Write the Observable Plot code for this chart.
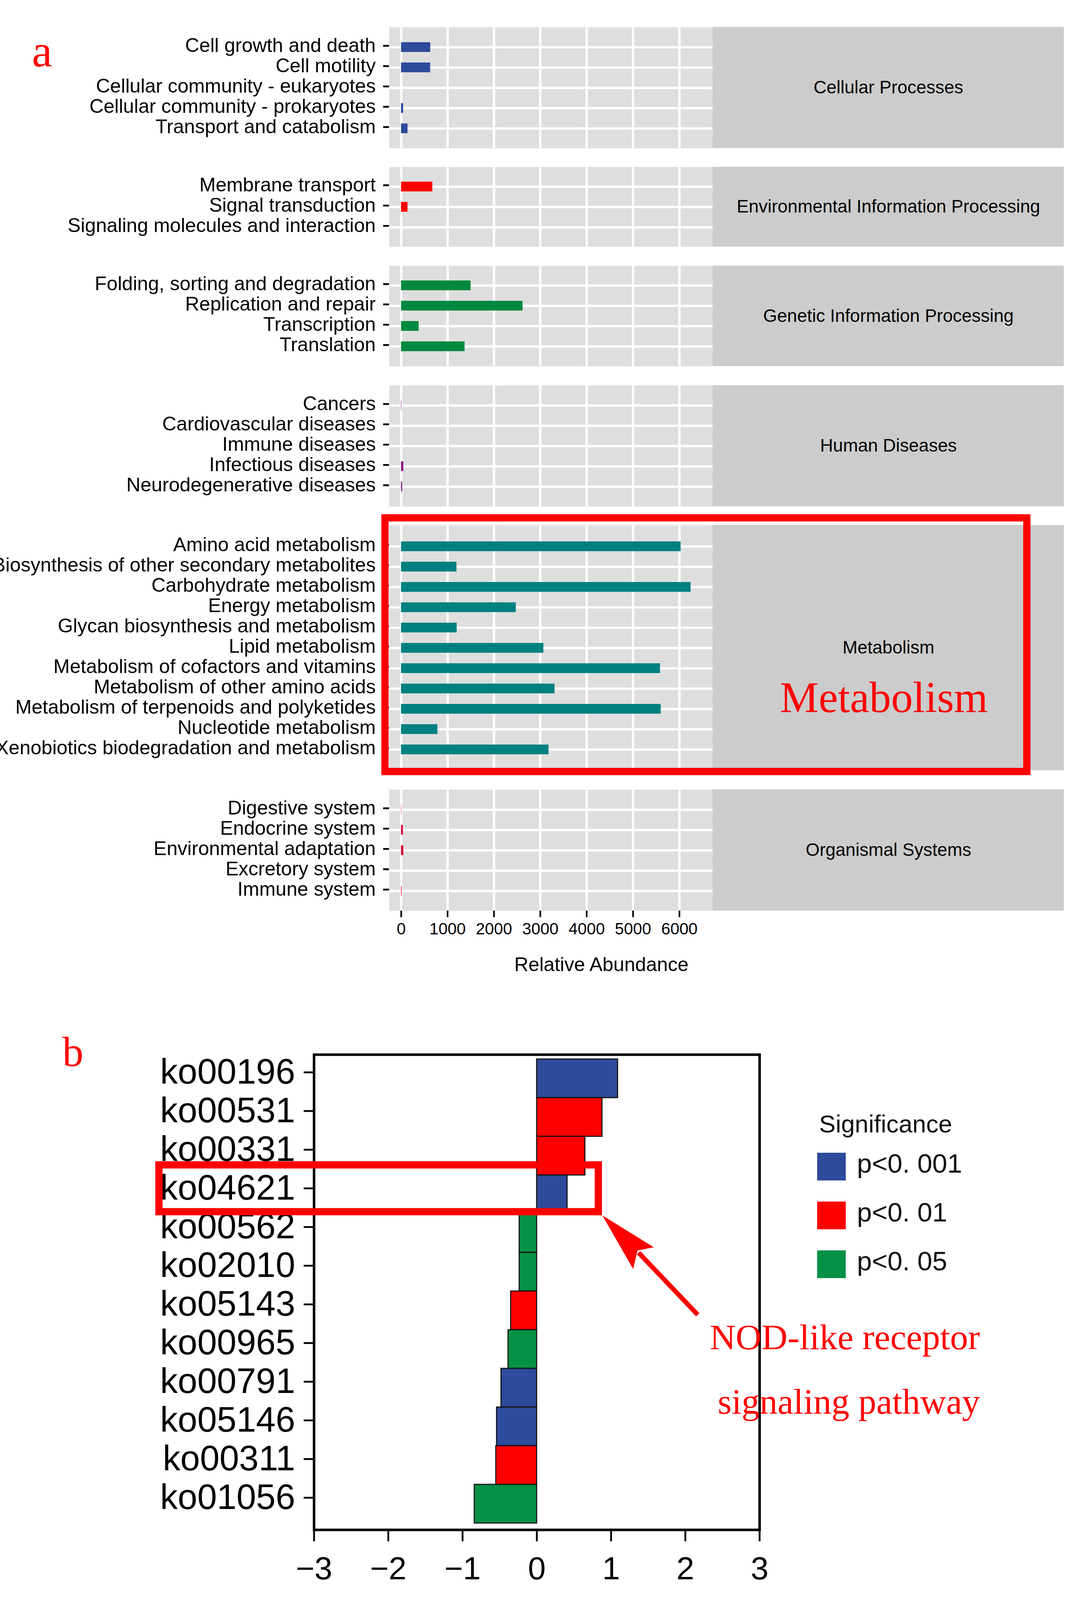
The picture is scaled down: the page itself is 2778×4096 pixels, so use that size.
<!DOCTYPE html>
<html>
<head>
<meta charset="utf-8">
<script src="https://cdn.jsdelivr.net/npm/d3@7"></script>
<script src="https://cdn.jsdelivr.net/npm/@observablehq/plot@0.6"></script>
<style>
  html, body { margin: 0; padding: 0; background: #fff; }
  #root { position: relative; width: 2778px; height: 4096px; overflow: hidden; background: #fff; }
  #root > svg, #root > figure { position: absolute; margin: 0; }
</style>
</head>
<body>
<div id="root"></div>
<script>
// ================= DATA =================
// Panel a: KEGG level-1 categories (facets) and level-2 pathways
const facetTitles = ["Cellular Processes", "Environmental Information Processing", "Genetic Information Processing", "Human Diseases", "Metabolism", "Organismal Systems"];

const cellularPathways = ["Cell growth and death", "Cell motility", "Cellular community - eukaryotes", "Cellular community - prokaryotes", "Transport and catabolism"];
const cellularAbundance = [630, 628, 0, 45, 140];

const environmentalPathways = ["Membrane transport", "Signal transduction", "Signaling molecules and interaction"];
const environmentalAbundance = [675, 140, 0];

const geneticPathways = ["Folding, sorting and degradation", "Replication and repair", "Transcription", "Translation"];
const geneticAbundance = [1500, 2620, 380, 1370];

const diseasePathways = ["Cancers", "Cardiovascular diseases", "Immune diseases", "Infectious diseases", "Neurodegenerative diseases"];
const diseaseAbundance = [8, 0, 0, 50, 25];

const metabolismPathways = ["Amino acid metabolism", "Biosynthesis of other secondary metabolites", "Carbohydrate metabolism", "Energy metabolism", "Glycan biosynthesis and metabolism", "Lipid metabolism", "Metabolism of cofactors and vitamins", "Metabolism of other amino acids", "Metabolism of terpenoids and polyketides", "Nucleotide metabolism", "Xenobiotics biodegradation and metabolism"];
const metabolismAbundance = [6030, 1195, 6245, 2475, 1200, 3070, 5585, 3310, 5600, 785, 3180];

const organismalPathways = ["Digestive system", "Endocrine system", "Environmental adaptation", "Excretory system", "Immune system"];
const organismalAbundance = [6, 40, 50, 0, 12];

const abundanceTicks = [0, 1000, 2000, 3000, 4000, 5000, 6000];

// Panel b: differential KEGG pathways
const koIds = ["ko00196", "ko00531", "ko00331", "ko04621", "ko00562", "ko02010", "ko05143", "ko00965", "ko00791", "ko05146", "ko00311", "ko01056"];
const koValues = [1.09, 0.88, 0.65, 0.41, -0.235, -0.235, -0.35, -0.385, -0.48, -0.54, -0.55, -0.84];
const koSignificance = ["p<0. 001", "p<0. 01", "p<0. 01", "p<0. 001", "p<0. 05", "p<0. 05", "p<0. 01", "p<0. 05", "p<0. 001", "p<0. 001", "p<0. 01", "p<0. 05"];
const significanceLevels = ["p<0. 001", "p<0. 01", "p<0. 05"];
const koTicks = [-3, -2, -1, 0, 1, 2, 3];

// ================= STYLE / LAYOUT =================
const S = 0.929;                 // reference -> window scale
const s = v => v * S;
const SANS = "'Liberation Sans', Arial, Helvetica, sans-serif";
const SERIF = "'Liberation Serif', 'Times New Roman', serif";

const facetColors = ["#2E4A9B", "#FF0000", "#00893F", "#8B1C8B", "#008080", "#DE0030"];
const significanceColors = ["#2E4A9B", "#FF0000", "#079146"];

const facetPathways = [cellularPathways, environmentalPathways, geneticPathways, diseasePathways, metabolismPathways, organismalPathways];
const facetAbundance = [cellularAbundance, environmentalAbundance, geneticAbundance, diseaseAbundance, metabolismAbundance, organismalAbundance];
const facetTops = [74, 460, 732, 1061, 1447, 2175];   // reference px
const ROW = 57, PAD_IN = 0.527, PAD_OUT = 0.692;
const PANEL_L = 1072, PANEL_R = 1964, STRIP_W = 968, FULL_W = 2990;

const root = document.getElementById("root");

function place(node, left, top) {
  node.style.left = s(left) + "px";
  node.style.top = s(top) + "px";
  root.appendChild(node);
}

// ================= PANEL a =================
facetTitles.forEach((title, i) => {
  const names = facetPathways[i];
  const rows = names.map((name, j) => ({name, value: facetAbundance[i][j]}));
  const panelH = ROW * (names.length - PAD_IN + 2 * PAD_OUT);
  const last = i === facetTitles.length - 1;
  const mb = last ? 200 : 0;
  const stripMark = (index, scales, values, dim) => {
    const g = d3.create("svg:g");
    g.append("rect")
      .attr("x", dim.width - dim.marginRight)
      .attr("y", dim.marginTop)
      .attr("width", s(STRIP_W))
      .attr("height", dim.height - dim.marginTop - dim.marginBottom)
      .attr("fill", "#CCCCCC");
    return g.node();
  };
  const marks = [
    Plot.frame({fill: "#DEDEDE", stroke: "none"}),
    Plot.gridX({ticks: abundanceTicks, stroke: "#fff", strokeOpacity: 1, strokeWidth: s(6.5)}),
    Plot.gridY({stroke: "#fff", strokeOpacity: 1, strokeWidth: s(6.5)}),
    Plot.barX(rows, {x: "value", y: "name", fill: facetColors[i]}),
    Plot.axisY({tickSize: s(16), tickPadding: s(21), fontSize: s(54), strokeWidth: s(5), dy: -s(4), label: null}),
    stripMark,
    Plot.text([title], {frameAnchor: "right", dx: s(STRIP_W / 2), textAnchor: "middle", lineAnchor: "middle", fontSize: s(49.5), fill: "#000"})
  ];
  if (last) {
    marks.push(Plot.axisX({ticks: abundanceTicks, tickSize: s(18), tickPadding: s(15), fontSize: s(45), strokeWidth: s(4.5), tickFormat: d => String(d), label: null}));
    marks.push(Plot.text(["Relative Abundance"], {frameAnchor: "bottom", lineAnchor: "middle", dx: s(1657 - (PANEL_L + PANEL_R) / 2), dy: s(2658 - 2509), fontSize: s(54), fill: "#000"}));
  }
  const chart = Plot.plot({
    width: s(FULL_W),
    height: s(panelH + mb),
    marginTop: 0,
    marginBottom: s(mb),
    marginLeft: s(PANEL_L),
    marginRight: s(FULL_W - PANEL_R),
    x: {domain: [-260, 6720], axis: last ? undefined : null},
    y: {type: "band", domain: names, paddingInner: PAD_IN, paddingOuter: PAD_OUT, align: 0.5},
    style: {fontFamily: SANS, background: "none", color: "#000", overflow: "visible"},
    marks
  });
  place(chart, 0, facetTops[i]);
});

// ================= PANEL b =================
const koRows = koIds.map((id, i) => ({id, value: koValues[i], sig: koSignificance[i]}));
const B_TOP = 2800, B_FRAME_T = 2906, B_FRAME_B = 4215.5, B_FRAME_L = 865, B_FRAME_R = 2093, B_W = 2160, B_H = 1600;
const chartB = Plot.plot({
  width: s(B_W),
  height: s(B_H),
  marginTop: s(B_FRAME_T - B_TOP),
  marginBottom: s(B_TOP + B_H - B_FRAME_B),
  marginLeft: s(B_FRAME_L),
  marginRight: s(B_W - B_FRAME_R),
  x: {domain: [-3, 3]},
  y: {type: "band", domain: koIds, paddingInner: 0, paddingOuter: 0.095, align: 0.4},
  color: {domain: significanceLevels, range: significanceColors},
  style: {fontFamily: SANS, background: "none", color: "#000", overflow: "visible"},
  marks: [
    Plot.barX(koRows, {x: "value", y: "id", fill: "sig", stroke: "#111", strokeWidth: s(3)}),
    Plot.axisY({tickSize: s(28), tickPadding: s(24), fontSize: s(97), strokeWidth: s(5), dy: -s(17), label: null}),
    Plot.axisX({ticks: koTicks, tickSize: s(32), tickPadding: s(42), fontSize: s(88), strokeWidth: s(5),
      tickFormat: d => d < 0 ? "\u2212" + (-d) : String(d), label: null}),
    Plot.frame({stroke: "#000", strokeWidth: s(7)})
  ]
});
place(chartB, 0, B_TOP);

// Legend for panel b (drawn with the same colour scale)
const L_TOP = 3030, L_LEFT = 2240, L_SW_T = 3176, L_SW_B = 3522;
const legend = Plot.plot({
  width: s(480),
  height: s(L_SW_B - L_TOP + 30),
  marginTop: s(L_SW_T - L_TOP),
  marginBottom: s(30),
  marginLeft: s(12),
  marginRight: s(480 - 12 - 79),
  x: {domain: [0, 1], axis: null},
  y: {type: "band", domain: significanceLevels, paddingInner: 0.43, paddingOuter: 0, axis: null},
  color: {domain: significanceLevels, range: significanceColors},
  style: {fontFamily: SANS, background: "none", color: "#000", overflow: "visible"},
  marks: [
    Plot.barX(significanceLevels, {x1: 0, x2: 1, y: d => d, fill: d => d}),
    Plot.text(significanceLevels, {y: d => d, text: d => d, frameAnchor: "right", lineAnchor: "middle", dx: s(30), dy: -s(8), textAnchor: "start", fontSize: s(74), fill: "#111"}),
    Plot.text(["Significance"], {frameAnchor: "top-left", lineAnchor: "middle", dx: s(5), dy: -s(L_SW_T - 3098), textAnchor: "start", fontSize: s(68), fill: "#111"})
  ]
});
place(legend, L_LEFT, L_TOP);

// ================= ANNOTATIONS (figure overlays) =================
const ov = d3.create("svg")
  .attr("width", 2778).attr("height", 4096)
  .style("left", "0px").style("top", "0px")
  .style("pointer-events", "none");
const A = ov.append("g").attr("transform", `scale(${S})`);
const RED = "#FF0000";
A.append("text").attr("x", 88).attr("y", 183).attr("font-family", SERIF).attr("font-size", 126).attr("fill", RED).text("a");
A.append("text").attr("x", 172).attr("y", 2938).attr("font-family", SERIF).attr("font-size", 116).attr("fill", RED).text("b");
// box around Metabolism facet
A.append("rect").attr("x", 1061).attr("y", 1427).attr("width", 1769).attr("height", 699)
  .attr("fill", "none").attr("stroke", RED).attr("stroke-width", 20);
A.append("text").attr("x", 2436).attr("y", 1962).attr("text-anchor", "middle").attr("font-family", SERIF)
  .attr("font-size", 120).attr("fill", RED).text("Metabolism");
// box around ko04621
A.append("rect").attr("x", 438).attr("y", 3210).attr("width", 1211).attr("height", 129)
  .attr("fill", "none").attr("stroke", RED).attr("stroke-width", 20);
// arrow
A.append("line").attr("x1", 1923).attr("y1", 3623).attr("x2", 1760).attr("y2", 3452)
  .attr("stroke", RED).attr("stroke-width", 13);
A.append("polygon").attr("points", "1660,3349 1802,3437 1757,3446 1745,3497").attr("fill", RED);
A.append("text").attr("x", 2701).attr("y", 3718).attr("text-anchor", "end").attr("font-family", SERIF)
  .attr("font-size", 99).attr("fill", RED).text("NOD-like receptor");
A.append("text").attr("x", 2701).attr("y", 3896).attr("text-anchor", "end").attr("font-family", SERIF)
  .attr("font-size", 99).attr("fill", RED).text("signaling pathway");
root.appendChild(ov.node());
</script>
</body>
</html>
